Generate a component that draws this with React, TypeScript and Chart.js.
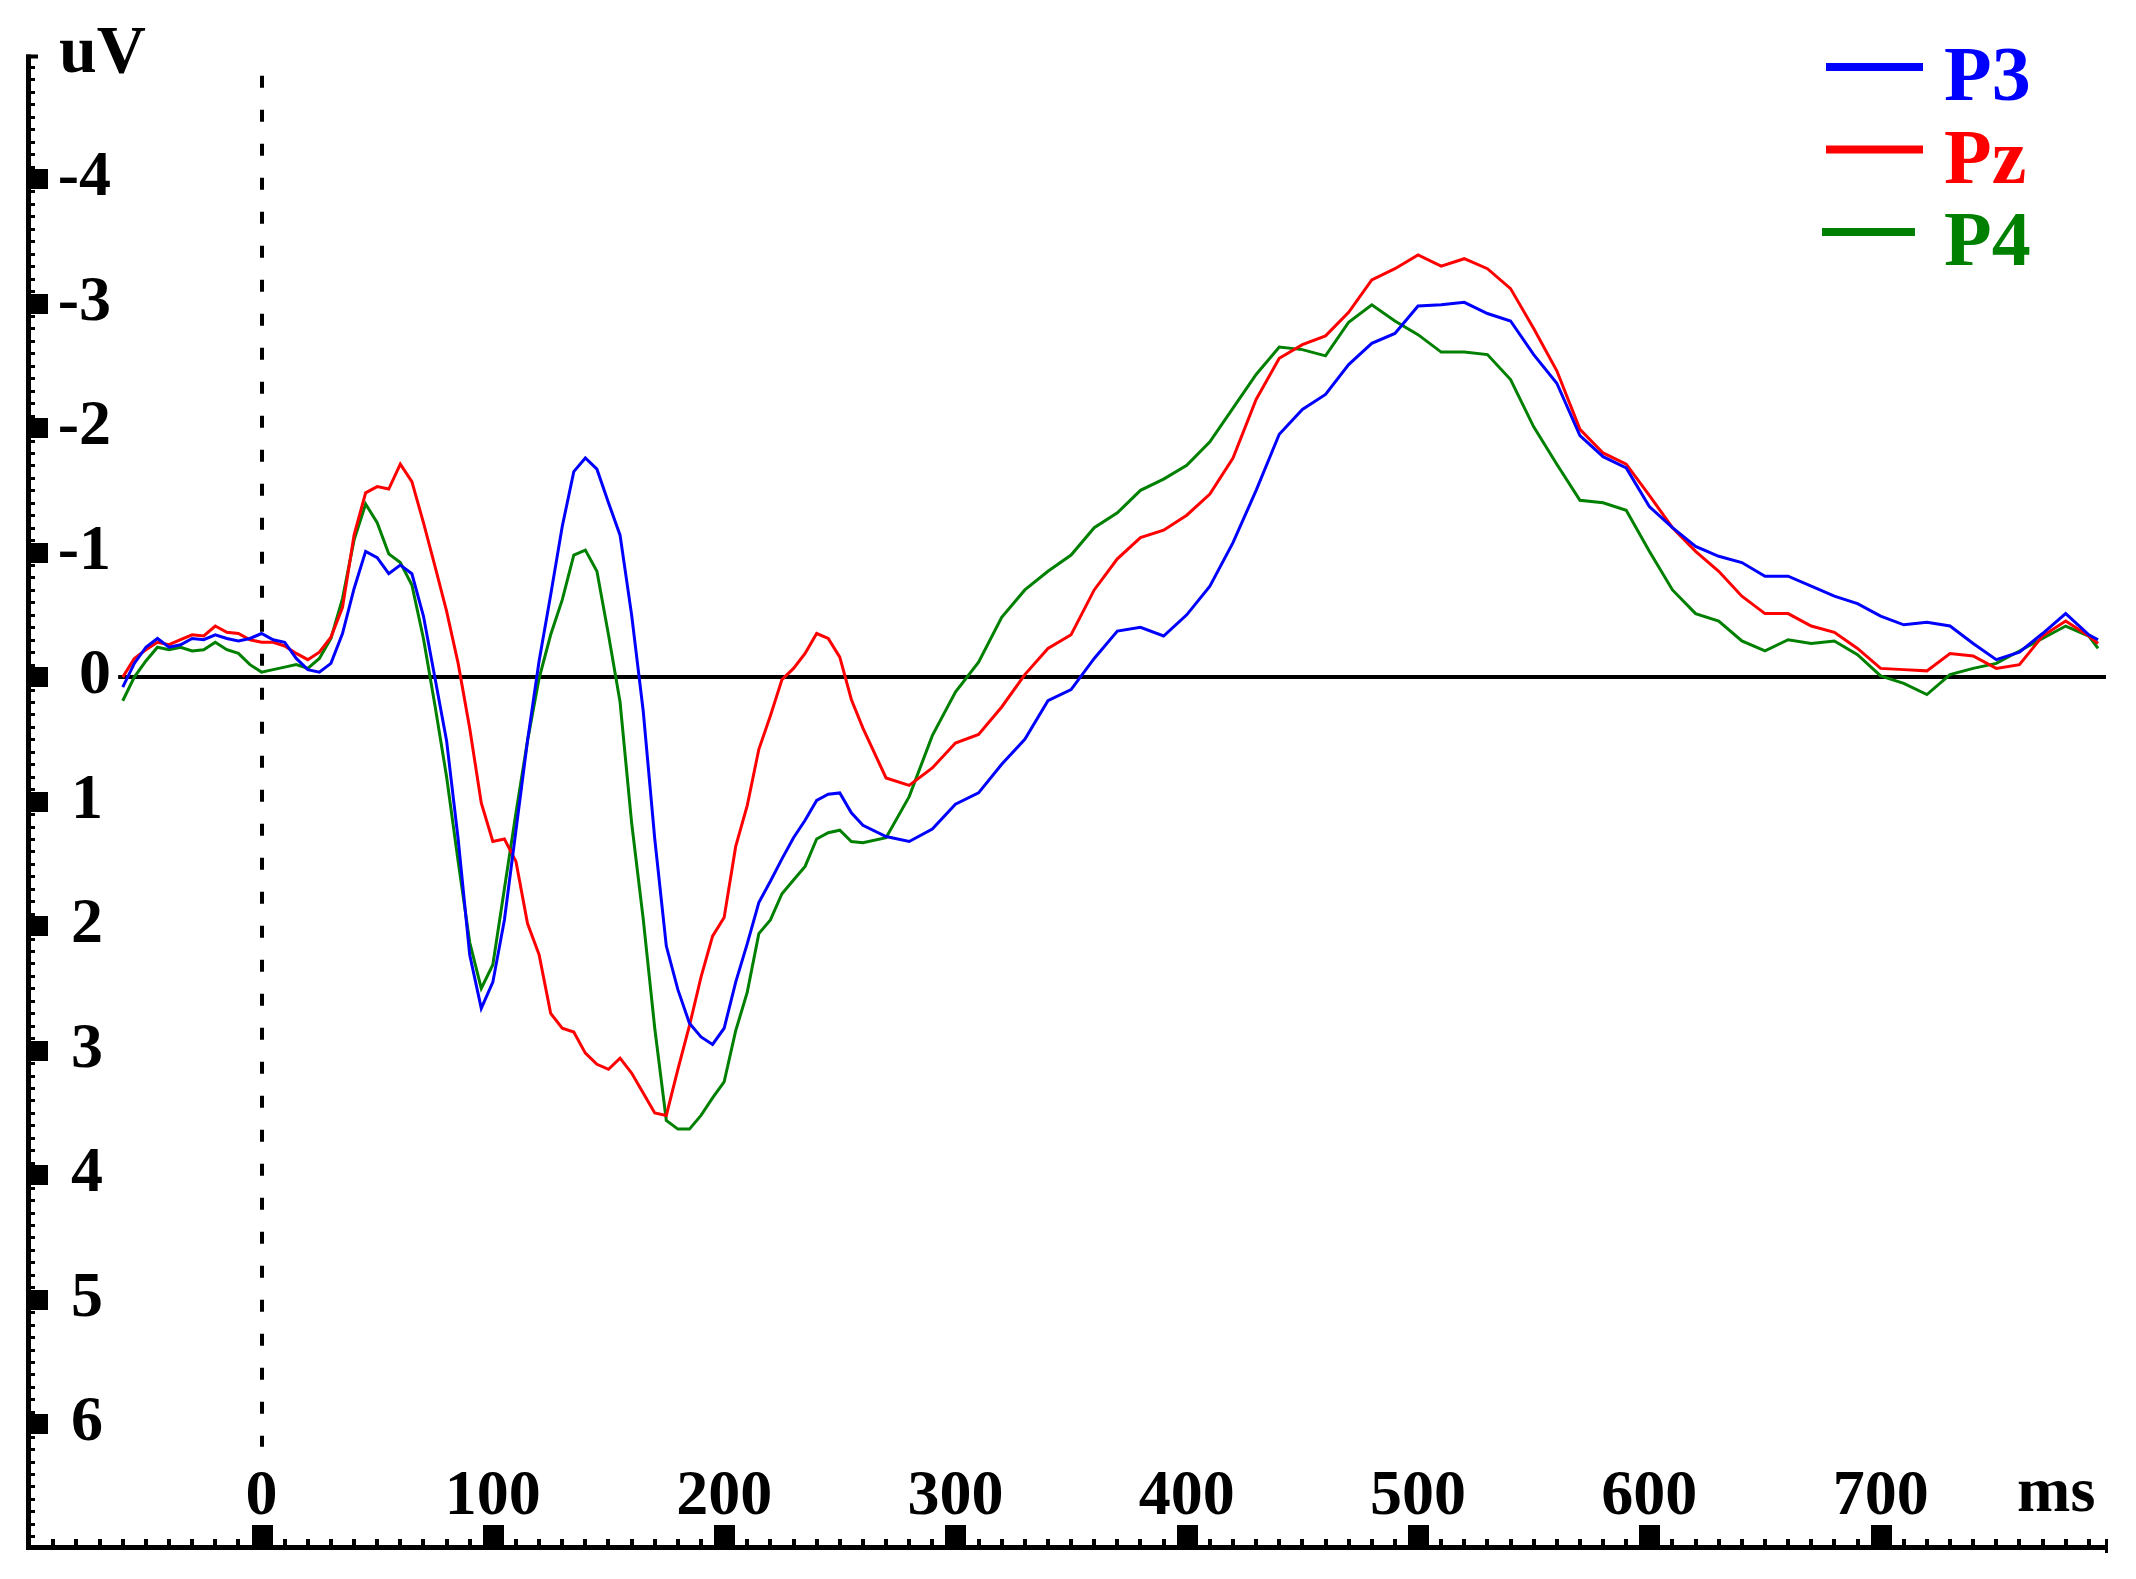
import React, { useEffect, useRef } from "react";
import { Chart, registerables } from "chart.js";

Chart.register(...registerables);

// ---- data (ms, uV; negative plotted upward) ----
const TIMES = [
  -60, -55, -50, -45, -40, -35, -30, -25, -20, -15, -10, -5, 0, 5, 10, 15, 20, 25, 30, 35,
  40, 45, 50, 55, 60, 65, 70, 75, 80, 85, 90, 95, 100, 105, 110, 115, 120, 125, 130, 135,
  140, 145, 150, 155, 160, 165, 170, 175, 180, 185, 190, 195, 200, 205, 210, 215, 220, 225, 230, 235,
  240, 245, 250, 255, 260,
  270, 280, 290, 300, 310, 320, 330, 340, 350, 360,
  370, 380, 390, 400, 410, 420, 430, 440, 450, 460,
  470, 480, 490, 500, 510, 520, 530, 540, 550, 560,
  570, 580, 590, 600, 610, 620, 630, 640, 650, 660,
  670, 680, 690, 700, 710, 720, 730, 740, 750, 760,
  770, 780, 790, 794,
];

const P3 = [
  0.08, -0.11, -0.24, -0.31, -0.24, -0.26, -0.31, -0.3, -0.34, -0.31, -0.29, -0.31, -0.35, -0.3, -0.28, -0.15, -0.06, -0.04, -0.11, -0.35,
  -0.71, -1.01, -0.96, -0.83, -0.9, -0.83, -0.49, 0.01, 0.51, 1.3, 2.23, 2.66, 2.45, 1.95, 1.23, 0.51, -0.13, -0.66, -1.21, -1.65,
  -1.76, -1.67, -1.4, -1.14, -0.5, 0.27, 1.3, 2.16, 2.51, 2.78, 2.89, 2.95, 2.82, 2.45, 2.14, 1.81, 1.64, 1.46, 1.29, 1.15,
  0.99, 0.94, 0.93, 1.09, 1.19,
  1.28, 1.32, 1.22, 1.02, 0.93, 0.7, 0.5, 0.19, 0.1, -0.15,
  -0.37, -0.4, -0.33, -0.5, -0.73, -1.08, -1.5, -1.95, -2.15, -2.27,
  -2.51, -2.68, -2.76, -2.98, -2.99, -3.01, -2.92, -2.86, -2.59, -2.36,
  -1.94, -1.77, -1.68, -1.37, -1.2, -1.05, -0.97, -0.92, -0.81, -0.81,
  -0.73, -0.65, -0.59, -0.49, -0.42, -0.44, -0.41, -0.27, -0.14, -0.2,
  -0.35, -0.51, -0.34, -0.3,
];

const PZ = [
  0.0, -0.15, -0.22, -0.28, -0.26, -0.3, -0.34, -0.33, -0.41, -0.36, -0.35, -0.3, -0.28, -0.28, -0.25, -0.19, -0.14, -0.2, -0.32, -0.56,
  -1.14, -1.48, -1.53, -1.51, -1.71, -1.57, -1.24, -0.89, -0.53, -0.11, 0.41, 1.01, 1.32, 1.3, 1.48, 1.98, 2.23, 2.7, 2.82, 2.85,
  3.02, 3.11, 3.15, 3.06, 3.18, 3.34, 3.5, 3.52, 3.15, 2.8, 2.41, 2.08, 1.93, 1.36, 1.03, 0.58, 0.31, 0.02, -0.07, -0.19,
  -0.35, -0.31, -0.16, 0.18, 0.41,
  0.81, 0.87, 0.73, 0.53, 0.46, 0.24, -0.02, -0.23, -0.34, -0.7,
  -0.95, -1.12, -1.18, -1.3, -1.47, -1.76, -2.23, -2.56, -2.67, -2.74,
  -2.93, -3.19, -3.28, -3.39, -3.3, -3.36, -3.28, -3.12, -2.8, -2.46,
  -1.99, -1.8, -1.71, -1.46, -1.2, -1.01, -0.85, -0.65, -0.51, -0.51,
  -0.41, -0.36, -0.23, -0.07, -0.06, -0.05, -0.19, -0.17, -0.07, -0.1,
  -0.33, -0.45, -0.33, -0.27,
];

const P4 = [
  0.19, 0.0, -0.13, -0.24, -0.22, -0.24, -0.21, -0.22, -0.28, -0.22, -0.19, -0.1, -0.04, -0.06, -0.08, -0.1, -0.07, -0.15, -0.31, -0.63,
  -1.1, -1.39, -1.24, -0.99, -0.92, -0.74, -0.31, 0.23, 0.8, 1.48, 2.13, 2.5, 2.31, 1.7, 1.09, 0.51, 0.01, -0.34, -0.62, -0.98,
  -1.02, -0.85, -0.34, 0.2, 1.17, 1.94, 2.82, 3.56, 3.63, 3.63, 3.52, 3.38, 3.25, 2.84, 2.53, 2.06, 1.95, 1.74, 1.63, 1.52,
  1.3, 1.25, 1.23, 1.32, 1.33,
  1.29, 0.96, 0.47, 0.12, -0.12, -0.48, -0.7, -0.85, -0.98, -1.2,
  -1.32, -1.5, -1.59, -1.7, -1.89, -2.16, -2.43, -2.65, -2.63, -2.58,
  -2.85, -2.99, -2.86, -2.75, -2.61, -2.61, -2.59, -2.39, -2.01, -1.71,
  -1.42, -1.4, -1.34, -1.01, -0.7, -0.51, -0.45, -0.29, -0.21, -0.3,
  -0.27, -0.29, -0.18, -0.01, 0.05, 0.14, -0.02, -0.07, -0.11, -0.21,
  -0.31, -0.41, -0.33, -0.23,
];

const SERIES_NAMES = ["P3", "Pz", "P4"];
const SERIES_COLORS = ["#0000ff", "#ff0000", "#008000"];

const Y_TICKS = [-4, -3, -2, -1, 0, 1, 2, 3, 4, 5, 6];
const Y_TICK_LABELS = ["-4", "-3", "-2", "-1", "0", "1", "2", "3", "4", "5", "6"];
const X_TICKS = [0, 100, 200, 300, 400, 500, 600, 700];
const X_TICK_LABELS = ["0", "100", "200", "300", "400", "500", "600", "700"];
const Y_UNIT = "uV";
const X_UNIT = "ms";

const FONT = '"Liberation Serif", "DejaVu Serif", serif';

const toPoints = (vals: number[]) =>
  vals.slice(0, Math.min(vals.length, TIMES.length)).map((v, i) => ({ x: TIMES[i], y: v }));

const erpDecor = {
  id: "erpDecor",
  beforeDatasetsDraw(chart: any) {
    const { ctx, chartArea, scales } = chart;
    const x = scales.x;
    const y = scales.y;
    ctx.save();
    // zero baseline
    ctx.strokeStyle = "#000";
    ctx.lineWidth = 4;
    const y0 = y.getPixelForValue(0);
    ctx.beginPath();
    ctx.moveTo(x.getPixelForValue(TIMES[0] - 2), y0);
    ctx.lineTo(chartArea.right + 1, y0);
    ctx.stroke();
    // dashed stimulus onset line
    const x0 = Math.round(x.getPixelForValue(0));
    ctx.setLineDash([12, 22]);
    ctx.lineWidth = 4;
    ctx.beginPath();
    ctx.moveTo(x0, y.getPixelForValue(-4.83));
    ctx.lineTo(x0, y.getPixelForValue(6.18));
    ctx.stroke();
    ctx.restore();
  },
  afterDraw(chart: any) {
    const { ctx, chartArea, scales } = chart;
    const x = scales.x;
    const y = scales.y;
    const left = chartArea.left;
    const bottom = chartArea.bottom;
    ctx.save();
    ctx.fillStyle = "#000";
    ctx.strokeStyle = "#000";

    // left axis
    ctx.fillRect(left - 1, chartArea.top, 5, bottom - chartArea.top + 5);
    ctx.fillRect(left - 1, chartArea.top, 12, 4);
    // bottom axis
    ctx.fillRect(left - 1, bottom, chartArea.right - left + 3, 5);
    ctx.fillRect(chartArea.right, bottom - 6, 3, 14);

    // y ticks
    for (let i = -49; i <= 69; i++) {
      const v = i / 10;
      const py = Math.round(y.getPixelForValue(v));
      if (i % 10 === 0 && Y_TICKS.indexOf(v) >= 0) {
        ctx.fillRect(left + 3, py - 10, 18, 20);
      } else {
        ctx.fillRect(left + 3, py - 1, 5, 3);
      }
    }
    // x ticks
    for (let t = -90; t <= 790; t += 10) {
      const px = Math.round(x.getPixelForValue(t));
      if (X_TICKS.indexOf(t) >= 0) {
        ctx.fillRect(px - 10, bottom - 20, 21, 21);
      } else {
        ctx.fillRect(px - 2, bottom - 6, 4, 7);
      }
    }

    // y labels
    ctx.font = `bold 64px ${FONT}`;
    ctx.textBaseline = "alphabetic";
    ctx.textAlign = "right";
    Y_TICKS.forEach((v, i) => {
      const py = y.getPixelForValue(v);
      const rx = v > 0 ? left + 76 : left + 84;
      ctx.fillText(Y_TICK_LABELS[i], rx, py + 16);
    });
    // x labels
    ctx.textAlign = "center";
    X_TICKS.forEach((t, i) => {
      const px = x.getPixelForValue(t);
      ctx.fillText(X_TICK_LABELS[i], px, bottom - 31);
    });
    // units
    ctx.textAlign = "left";
    ctx.fillText(X_UNIT, x.getPixelForValue(759), bottom - 34);
    ctx.font = `bold 68px ${FONT}`;
    ctx.fillText(Y_UNIT, left + 32, chartArea.top + 17);

    // legend
    ctx.font = `bold 78px ${FONT}`;
    chart.data.datasets.forEach((ds: any, i: number) => {
      const ly = 67 + i * 82.5;
      ctx.fillStyle = ds.borderColor;
      ctx.fillRect(i === 2 ? 1822 : 1826, ly - 4, i === 2 ? 93 : 97, 8);
      ctx.fillText(ds.label, 1944, ly + 33);
    });
    ctx.restore();
  },
};

export default function App() {
  const ref = useRef<HTMLCanvasElement | null>(null);
  useEffect(() => {
    if (!ref.current) return;
    const chart = new Chart(ref.current, {
      type: "line",
      data: {
        datasets: [P3, PZ, P4].map((vals, i) => ({
          label: SERIES_NAMES[i],
          data: toPoints(vals),
          borderColor: SERIES_COLORS[i],
          backgroundColor: SERIES_COLORS[i],
          borderWidth: 3,
          pointRadius: 0,
          tension: 0,
          fill: false,
        })),
      },
      options: {
        responsive: false,
        animation: false,
        devicePixelRatio: 1,
        layout: { padding: { left: 27, right: 31, top: 54.5, bottom: 34 } },
        scales: {
          x: { type: "linear", min: -101.4, max: 797, display: false },
          y: { type: "linear", min: -5, max: 6.97, reverse: true, display: false },
        },
        plugins: { legend: { display: false }, tooltip: { enabled: false } },
      },
      plugins: [erpDecor],
    });
    return () => chart.destroy();
  }, []);
  return (
    <div style={{ position: "absolute", left: 0, top: 0, background: "#fff" }}>
      <canvas ref={ref} width={2136} height={1579} style={{ display: "block" }} />
    </div>
  );
}
